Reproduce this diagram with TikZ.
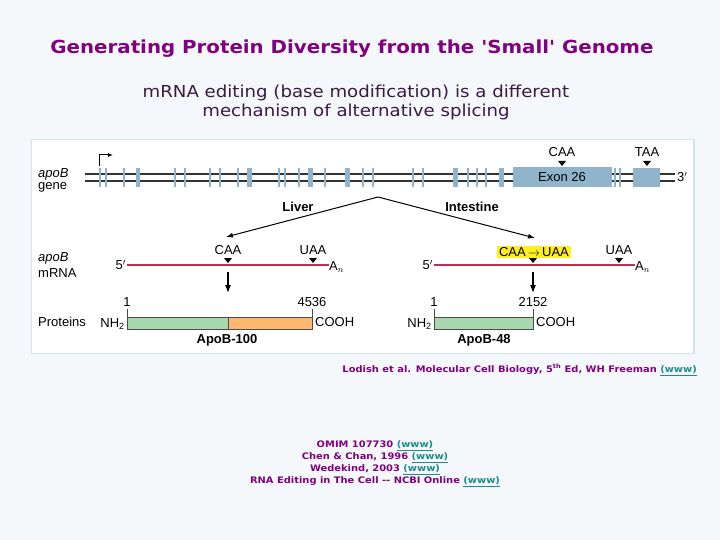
\documentclass[tikz,border=0pt]{standalone}
\usepackage{fontspec}
\setmainfont{Liberation Sans}
\newfontfamily\verd[FakeStretch=1.1]{DejaVu Sans}
\usetikzlibrary{arrows.meta}
\definecolor{bgcol}{HTML}{F4F8FA}
\definecolor{framecol}{HTML}{D2E5EB}
\definecolor{exoncol}{HTML}{8FB4CC}
\definecolor{mrnacol}{HTML}{C0304A}
\definecolor{greencol}{HTML}{A8D8AE}
\definecolor{orangecol}{HTML}{FFB870}
\definecolor{hilite}{HTML}{FFEE22}
\definecolor{titlecol}{HTML}{800080}
\definecolor{subcol}{HTML}{3A1A44}
\definecolor{linkcol}{HTML}{1A8C8C}
\newcommand{\wwwlink}{\textcolor{linkcol}{\underline{(www)}}}
\begin{document}
\begin{tikzpicture}[x=1pt,y=-1pt,
    lbl/.style={font=\fontsize{13}{15}\selectfont, inner sep=0pt},
    blbl/.style={lbl, font=\fontsize{13}{15}\selectfont\bfseries},
    refs/.style={font=\verd\bfseries\fontsize{9}{12}\selectfont, text=titlecol, inner sep=0pt, align=center},
    mrna/.style={mrnacol, line width=1.8pt},
    bar/.style={draw=black!70, line width=0.7pt}]
    % page and panel
    \fill[bgcol] (0,0) rectangle (720,540);
    \draw[framecol, fill=white, line width=1.5pt] (31.5,139.5) rectangle (694,353.5);
    \useasboundingbox (0,0) rectangle (720,540);
    % headings
    \node[font=\verd\bfseries\fontsize{18}{22}\selectfont, text=titlecol, inner sep=0pt] (title) at (352,49) {Generating Protein Diversity from the 'Small' Genome};
    \node[font=\verd\fontsize{16.5}{19}\selectfont, text=subcol, inner sep=0pt, align=center] (subtitle) at (356,102) {mRNA editing (base modification) is a different\\mechanism of alternative splicing};
    % gene
    \node[lbl, anchor=west] (genea) at (38,174) {\itshape apoB};
    \node[lbl, anchor=west] (geneb) at (38,187) {gene};
    \draw[line width=1.8pt, black!80] (85,174) -- (675,174) (85,181) -- (675,181);
    \foreach \ex/\ew in {100/2,106/2,124/2,138/3.5,175/2,185/2,210/2,220/2,238/2,249/5,279/2,285/2,299/2,310/5,325/2,347/5,363/2,373/2,413/2,423/2,455/5,468/2,477/2,486/2,501/5,615/2,620/2}
        \fill[exoncol] (\ex-\ew/2,168) rectangle (\ex+\ew/2,187);
    \node[lbl, fill=exoncol, minimum width=99pt, minimum height=20pt] (exon26) at (562,177) {Exon 26};
    \fill[exoncol] (633,168) rectangle (660,187);
    \node[lbl, anchor=west] (threep) at (677,177) {3$'$};
    \draw[-{Latex[length=5pt,width=4pt]}, line width=1pt] (99,166) -- (99,155) -- (113,155);
    \node[lbl] (gcaa) at (562,152) {CAA};
    \node[lbl] (gtaa) at (647,152) {TAA};
    \foreach \tx/\ty in {562/166,647/166,228/263,313/263,533/263,619/263}
        \fill (\tx,\ty) -- ++(-4,-5) -- ++(8,0) -- cycle;
    % tissues
    \coordinate (apex) at (378,197);
    \coordinate (liverend) at (226,237);
    \coordinate (intestend) at (535,238);
    \draw[-{Latex[length=7pt,width=5pt]}, line width=1pt] (apex) -- (liverend);
    \draw[-{Latex[length=7pt,width=5pt]}, line width=1pt] (apex) -- (intestend);
    \node[blbl] (liver) at (298,207) {Liver};
    \node[blbl] (intestine) at (472,207) {Intestine};
    % mRNA
    \node[lbl, anchor=west] (mrnaa) at (38,258) {\itshape apoB};
    \node[lbl, anchor=west] (mrnab) at (38,273) {mRNA};
    \node[lbl, anchor=east] (fiveL) at (126,265) {5$'$};
    \node[lbl, anchor=west] (anL) at (329,267) {A$_n$};
    \draw[mrna] (127,265) -- (anL.west |- 0,265);
    \node[lbl] (lcaa) at (228,250) {CAA};
    \node[lbl] (luaa) at (313,250) {UAA};
    \node[lbl, anchor=east] (fiveR) at (433,265) {5$'$};
    \node[lbl, anchor=west] (anR) at (635,267) {A$_n$};
    \draw[mrna] (434,265) -- (anR.west |- 0,265);
    \node[lbl, fill=hilite, inner xsep=2pt, inner ysep=1.5pt] (edit) at (534,252) {CAA\,$\rightarrow$\,UAA};
    \node[lbl] (ruaa) at (619,250) {UAA};
    \coordinate (ldown) at (228,272);
    \coordinate (rdown) at (533,272);
    \draw[-{Latex[length=8pt,width=6pt]}, line width=1.1pt] (ldown) -- ++(0,21);
    \draw[-{Latex[length=8pt,width=6pt]}, line width=1.1pt] (rdown) -- ++(0,21);
    % proteins
    \node[lbl, anchor=west] (prot) at (38,322) {Proteins};
    \node[lbl] (lone) at (127,302) {1};
    \node[lbl] (lend) at (312,302) {4536};
    \node[lbl, anchor=east] (lnh) at (125,324) {NH\textsubscript{2}};
    \node[lbl, anchor=west] (lcooh) at (315,322) {COOH};
    \fill[greencol] (127,317) rectangle (228,329);
    \fill[orangecol] (228,317) rectangle (312,329);
    \draw[bar] (127,317) rectangle (312,329) (228,317) -- (228,329) (127,309) -- (127,317) (312,309) -- (312,317);
    \node[blbl] (apo100) at (227,340) {ApoB-100};
    \node[lbl] (rone) at (434,302) {1};
    \node[lbl] (rend) at (533,302) {2152};
    \node[lbl, anchor=east] (rnh) at (432,324) {NH\textsubscript{2}};
    \node[lbl, anchor=west] (rcooh) at (536,322) {COOH};
    \fill[greencol] (434,317) rectangle (533,329);
    \draw[bar] (434,317) rectangle (533,329) (434,309) -- (434,317) (533,309) -- (533,317);
    \node[blbl] (apo48) at (484,340) {ApoB-48};
    % references
    \node[refs, anchor=east] (lodish) at (697,370) {Lodish et al. Molecular Cell Biology, 5\textsuperscript{th} Ed, WH Freeman \wwwlink};
    \node[refs] (reflist) at (375,464) {OMIM 107730 \wwwlink\\Chen \& Chan, 1996 \wwwlink\\Wedekind, 2003 \wwwlink\\RNA Editing in The Cell -- NCBI Online \wwwlink};
\end{tikzpicture}
\end{document}
